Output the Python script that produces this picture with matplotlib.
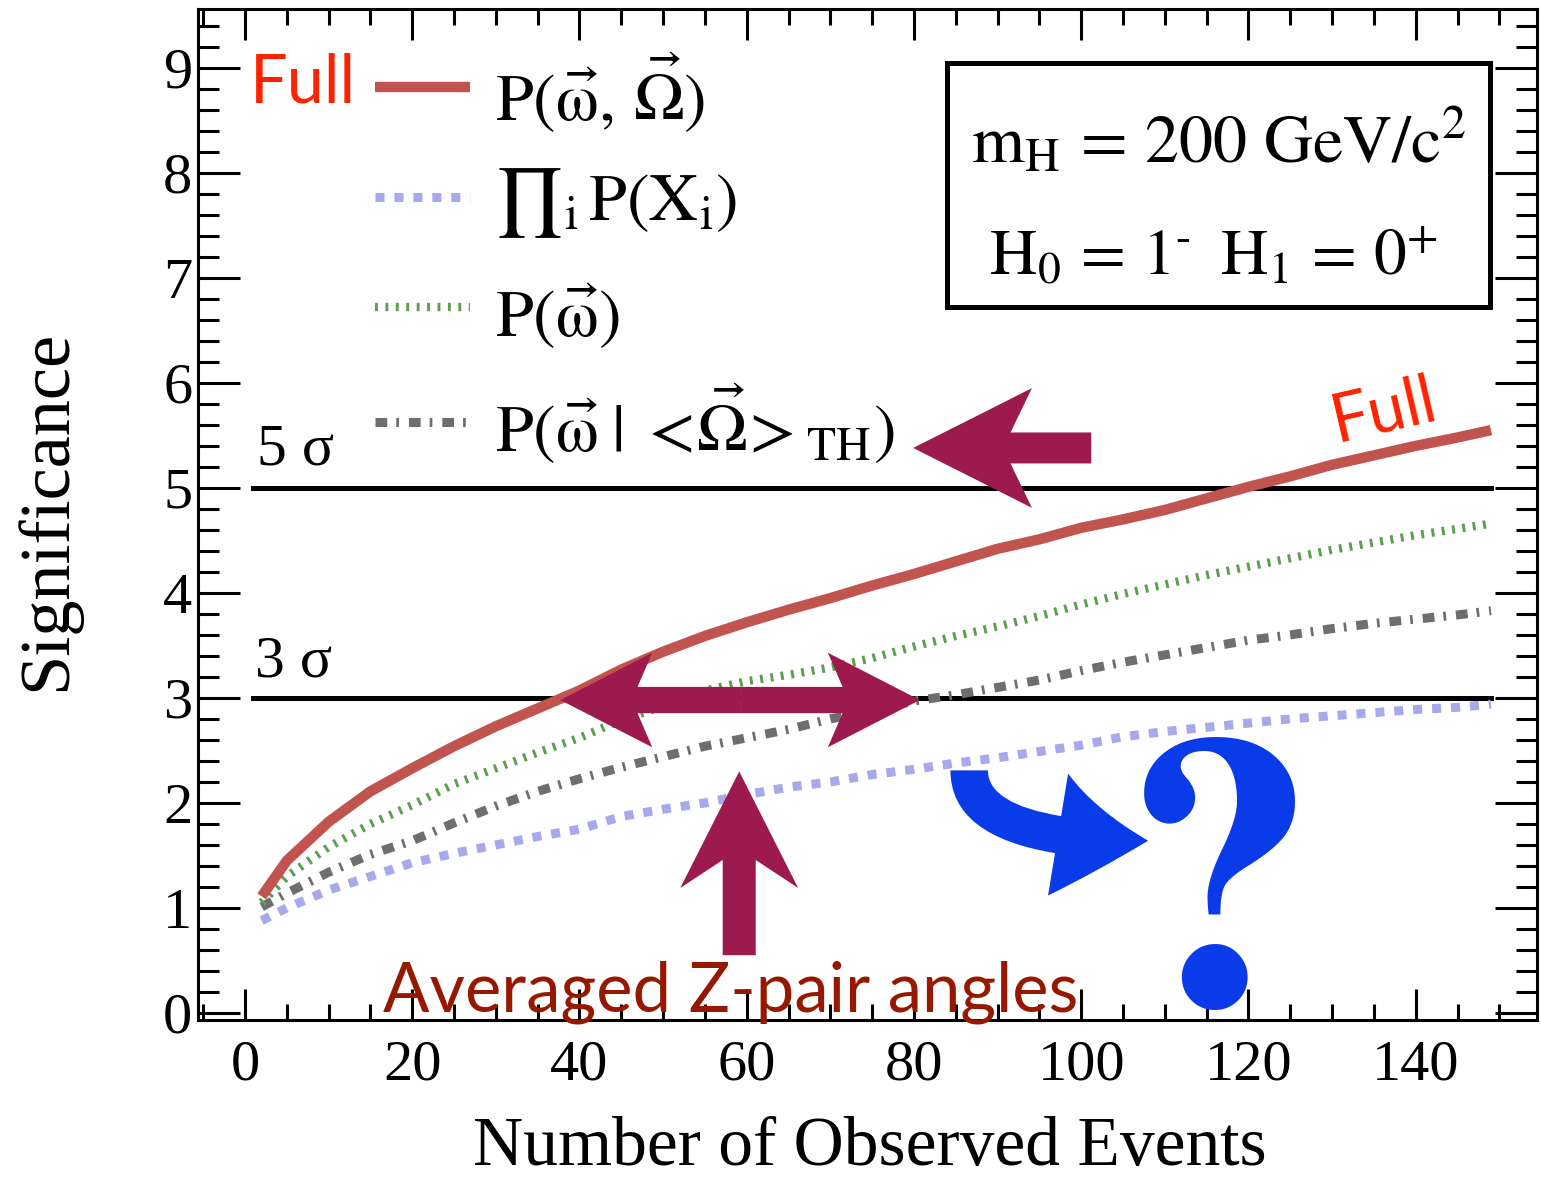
import matplotlib.pyplot as plt
from matplotlib.patches import FancyArrow, FancyArrowPatch, Rectangle
from matplotlib.lines import Line2D
from matplotlib.ticker import MultipleLocator

plt.rcParams['font.family'] = ['Liberation Serif', 'DejaVu Serif']
plt.rcParams['mathtext.fontset'] = 'stix'

# number of observed events
n_events = [2, 5, 10, 15, 20, 25, 30, 35, 40, 45, 50, 55, 60, 65, 70, 75,
            80, 85, 90, 95, 100, 105, 110, 115, 120, 125, 130, 135, 140, 145, 149]

# significance for each likelihood
sig_full = [1.11, 1.45, 1.82, 2.11, 2.33, 2.54, 2.73, 2.90, 3.07, 3.27, 3.44,
            3.59, 3.72, 3.84, 3.95, 4.07, 4.18, 4.30, 4.42, 4.51, 4.62, 4.70,
            4.79, 4.90, 5.01, 5.11, 5.22, 5.31, 5.40, 5.48, 5.55]
sig_prod = [0.88, 1.00, 1.17, 1.30, 1.43, 1.52, 1.60, 1.68, 1.75, 1.87, 1.94,
            2.00, 2.08, 2.15, 2.20, 2.27, 2.32, 2.38, 2.43, 2.49, 2.55, 2.63,
            2.68, 2.72, 2.76, 2.80, 2.83, 2.86, 2.89, 2.91, 2.94]
sig_omega = [1.05, 1.30, 1.58, 1.80, 1.98, 2.18, 2.33, 2.48, 2.62, 2.79, 2.92,
             3.07, 3.16, 3.22, 3.29, 3.38, 3.49, 3.59, 3.68, 3.78, 3.89, 3.99,
             4.08, 4.17, 4.25, 4.33, 4.41, 4.48, 4.55, 4.61, 4.66]
sig_avg = [1.01, 1.14, 1.34, 1.51, 1.64, 1.81, 1.97, 2.11, 2.23, 2.34, 2.44,
           2.54, 2.62, 2.70, 2.80, 2.88, 2.97, 3.03, 3.10, 3.17, 3.26, 3.34,
           3.41, 3.48, 3.55, 3.60, 3.66, 3.71, 3.75, 3.79, 3.83]

labels = [r'$\mathrm{P}(\vec{\mathrm{\omega}},\,\vec{\Omega})$',
          r'${\prod}_{\mathrm{i}}\,\mathrm{P}(\mathrm{X}_{\mathrm{i}})$',
          r'$\mathrm{P}(\vec{\mathrm{\omega}})$',
          r'$\mathrm{P}(\vec{\mathrm{\omega}}\;|\;<\!\vec{\Omega}\!>_{\mathrm{TH}})$']

style_full = dict(color='#c25450', lw=7.5, solid_capstyle='butt')
style_prod = dict(color='#a8a8ec', lw=6.5, linestyle=(0, (1.0, 1.1)))
style_omega = dict(color='#5b9f4f', lw=6.0, linestyle=(0, (0.35, 0.9)))
style_avg = dict(color='#6e6e6e', lw=6.5, linestyle=(0, (1.3, 1.0, 0.3, 1.1)))

fig = plt.figure(figsize=(15.41, 11.78), dpi=100)
ax = fig.add_axes([198 / 1541, 1 - 1020 / 1178, 1339 / 1541, 1011 / 1178])

# 3 and 5 sigma reference lines
ax.plot([1, 149], [5, 5], color='black', lw=3.6, zorder=2)
ax.plot([1, 149], [3, 3], color='black', lw=3.6, zorder=2)
ax.text(1.4, 5.22, '5 σ', fontsize=43)
ax.text(1.2, 3.2, '3 σ', fontsize=43)

ax.plot(n_events, sig_prod, zorder=3, **style_prod)
ax.plot(n_events, sig_avg, zorder=3, **style_avg)
ax.plot(n_events, sig_omega, zorder=3, **style_omega)
ax.plot(n_events, sig_full, zorder=4, **style_full)

# legend drawn by hand
leg_line_y = [8.82, 7.77, 6.72, 5.63]
leg_text_y = [8.49, 7.55, 6.44, 5.34]
for style, lab, ly, ty in zip([style_full, style_prod, style_omega, style_avg],
                              labels, leg_line_y, leg_text_y):
    ax.add_line(Line2D([15.6, 26.9], [ly, ly], **style))
    ax.text(29.9, ty, lab, fontsize=49, va='baseline')

# info box
ax.add_patch(Rectangle((83.9, 6.72), 65.0, 2.33, fill=False, lw=3.6,
                       edgecolor='black', zorder=5))
ax.text(116.4, 8.10, r'$\mathrm{m_{H}\,=\,200\ GeV/c^{2}}$', fontsize=49,
        ha='center', va='baseline')
ax.text(115.8, 7.03, '$\\mathrm{H_{0}\\,=\\,1^{\u2010}\\;\\;H_{1}\\,=\\,0^{+}}$',
        fontsize=47, ha='center', va='baseline')

ax.set_xlim(-5.62, 154.5)
ax.set_ylim(-0.067, 9.56)
ax.xaxis.set_major_locator(MultipleLocator(20))
ax.xaxis.set_minor_locator(MultipleLocator(5))
ax.yaxis.set_major_locator(MultipleLocator(1))
ax.yaxis.set_minor_locator(MultipleLocator(0.2))
ax.tick_params(which='both', direction='in', top=True, right=True,
               width=2.2, labelsize=42)
ax.tick_params(axis='y', which='major', length=30, pad=4)
ax.tick_params(axis='y', which='minor', length=15)
ax.tick_params(axis='x', which='major', length=22, pad=14)
ax.tick_params(axis='x', which='minor', length=11.5)
for sp in ax.spines.values():
    sp.set_linewidth(2.2)

ax.set_xlabel('Number of Observed Events', fontsize=50)
ax.set_ylabel('Significance', fontsize=52)
ax.xaxis.set_label_coords(0.502, -0.095)
ax.yaxis.set_label_coords(-0.088, 0.504)

# annotations
maroon = '#9c1a4e'
ax.text(0.6, 8.67, 'Full', fontsize=48, color='#ff2200', family='Lato')
ax.text(130.6, 5.44, 'Full', fontsize=48, color='#ff2200', family='Lato',
        rotation=13, rotation_mode='anchor', va='baseline')
ax.add_patch(FancyArrow(101.2, 5.38, -21.3, 0, width=0.295, head_width=1.14,
                        head_length=14.2, overhang=0.18, length_includes_head=True,
                        color=maroon, lw=0, zorder=6))
ax.add_patch(FancyArrow(59.2, 2.98, -21.5, 0, width=0.25, head_width=0.9,
                        head_length=11, overhang=0.16, length_includes_head=True,
                        color=maroon, lw=0, zorder=6))
ax.add_patch(FancyArrow(59.2, 2.98, 21.5, 0, width=0.25, head_width=0.9,
                        head_length=11, overhang=0.16, length_includes_head=True,
                        color=maroon, lw=0, zorder=6))
ax.add_patch(FancyArrow(59.1, 0.55, 0, 1.75, width=3.95, head_width=14.1,
                        head_length=1.11, overhang=0.24, length_includes_head=True,
                        color=maroon, lw=0, zorder=6))
ax.text(16.5, 0.01, 'Averaged Z-pair angles', fontsize=49.5, color='#961800',
        family='Lato', va='baseline', zorder=7)

blue = '#0a3be8'
ax.add_patch(FancyArrowPatch((86.6, 2.31), (108.0, 1.64),
                             connectionstyle='angle3,angleA=90,angleB=0',
                             arrowstyle='simple,head_length=6.5,head_width=8.9,tail_width=2.7',
                             mutation_scale=10, color=blue, lw=0,
                             shrinkA=0, shrinkB=0, zorder=6))
ax.text(115.2, 0.08, r'$\mathbf{?}$', fontsize=280, color=blue,
        ha='center', va='baseline', zorder=7)

fig.savefig('out.png', dpi=100)
